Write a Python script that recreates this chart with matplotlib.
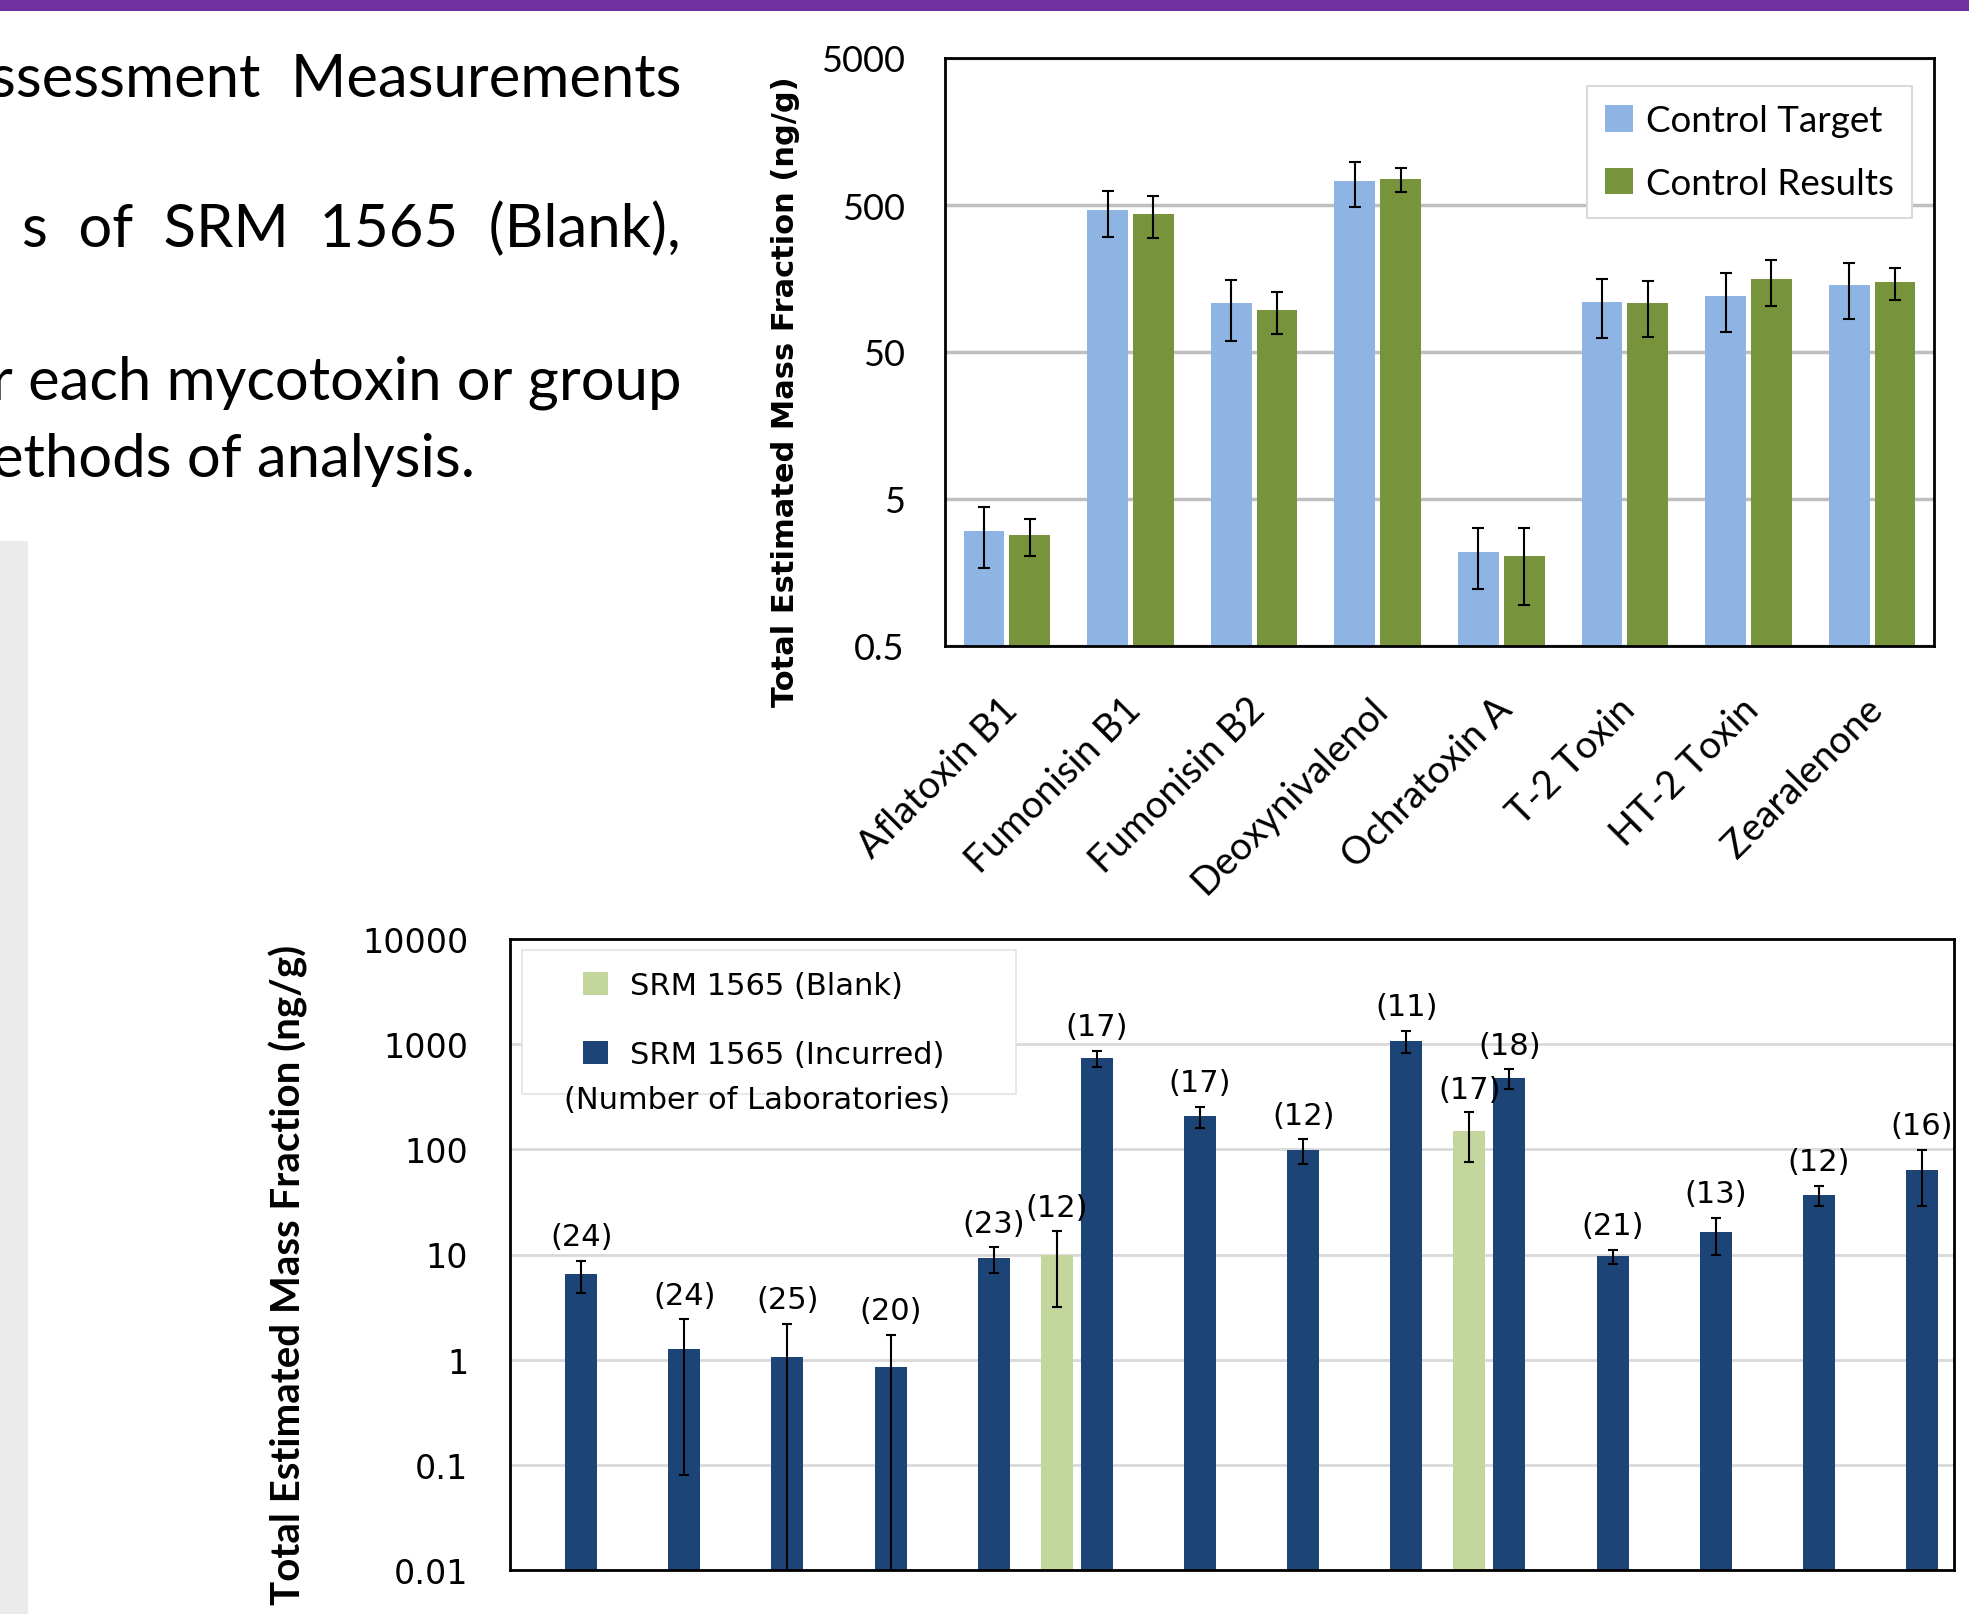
import matplotlib
matplotlib.use('Agg')
import matplotlib.pyplot as plt
from matplotlib.patches import Rectangle, Patch
from matplotlib.ticker import NullLocator
from matplotlib.transforms import ScaledTranslation
import numpy as np

# ---------------- data ----------------
toxins = ['Aflatoxin B1', 'Fumonisin B1', 'Fumonisin B2', 'Deoxynivalenol',
          'Ochratoxin A', 'T-2 Toxin', 'HT-2 Toxin', 'Zearalenone']
control_target = [3.05, 465, 107, 729, 2.19, 110, 120, 142]
control_target_err = [1.35, 160, 48, 245, 0.96, 48, 52, 58]
control_results = [2.86, 437, 97, 750, 2.05, 107, 157, 149]
control_results_err = [0.8, 140, 31, 138, 1.1, 44, 55, 36]

top_yticks = [0.5, 5, 50, 500, 5000]
top_yticklabels = ['0.5', '5', '50', '500', '5000']

incurred = [6.5, 1.25, 1.06, 0.86, 9.2, 733, 206, 98.6, 1082, 477, 9.6, 16.2, 36.7, 64.2]
incurred_err = [2.2, 1.17, 1.12, 0.87, 2.5, 125, 46, 26, 250, 100, 1.45, 6.2, 7.9, 35]
incurred_labs = [24, 24, 25, 20, 23, 17, 17, 12, 11, 18, 21, 13, 12, 16]
blank_idx = [5, 9]
blank = [10, 151]
blank_err = [6.8, 75]
blank_labs = [12, 17]

bot_yticks = [0.01, 0.1, 1, 10, 100, 1000, 10000]
bot_yticklabels = ['0.01', '0.1', '1', '10', '100', '1000', '10000']

left_lines = ['ssessment  Measurements', 's  of  SRM  1565  (Blank),',
              'r each mycotoxin or group', 'ethods of analysis.']

# ---------------- figure ----------------
W, H = 1969, 1615
fig = plt.figure(figsize=(W / 100, H / 100), dpi=100)
fig.patch.set_facecolor('white')


def rect(l, t, r, b):
    return [l / W, 1 - b / H, (r - l) / W, (b - t) / H]


# slide decorations
fig.patches.append(Rectangle((0, 1 - 12 / H), 1, 12 / H, transform=fig.transFigure,
                             facecolor='#7030A0', edgecolor='none', zorder=0))
fig.patches.append(Rectangle((0, 0), 28 / W, 1 - 542 / H, transform=fig.transFigure,
                             facecolor='#EBEBEB', edgecolor='none', zorder=0))

# left text (cropped, justified paragraph)
text_pos = [(681, 97), (681, 247), (681, 399), (475, 477)]
for line, (px, py) in zip(left_lines, text_pos):
    fig.text(px / W, 1 - py / H, line, ha='right', va='baseline', fontsize=43,
             family='Lato', color='black')

# ---------------- top chart ----------------
ax1 = fig.add_axes(rect(945, 59, 1934, 647))
ax1.set_yscale('log')
x = np.arange(len(toxins))
bw = 0.33
off = 0.185
ax1.bar(x - off, control_target, bw, color='#8EB4E3', zorder=2)
ax1.bar(x + off, control_results, bw, color='#77933C', zorder=2)
ax1.errorbar(x - off, control_target, yerr=control_target_err, fmt='none', ecolor='black',
             elinewidth=1.5, capsize=4.5, capthick=1.5, zorder=3)
ax1.errorbar(x + off, control_results, yerr=control_results_err, fmt='none', ecolor='black',
             elinewidth=1.5, capsize=4.5, capthick=1.5, zorder=3)
ax1.set_ylim(0.5, 5000)
ax1.set_xlim(-0.5, len(toxins) - 0.5)
ax1.set_yticks(top_yticks)
ax1.set_yticklabels(top_yticklabels, family='Lato', fontsize=26)
ax1.yaxis.set_minor_locator(NullLocator())
ax1.grid(axis='y', color='#BFBFBF', lw=2.5)
ax1.set_axisbelow(True)
ax1.tick_params(axis='y', length=0, pad=29)
ax1.set_xticks(x)
ax1.set_xticklabels(toxins, rotation=45, ha='right', va='top', rotation_mode='anchor',
                    family='Lato', fontsize=27.5)
ax1.tick_params(axis='x', length=0, pad=32)
for lab in ax1.get_xticklabels():
    lab.set_transform(lab.get_transform() + ScaledTranslation(-8 / 100, 0, fig.dpi_scale_trans))
for s in ax1.spines.values():
    s.set_color('black')
    s.set_linewidth(2)
leg1 = ax1.legend(handles=[Patch(facecolor='#8EB4E3', label='Control Target'),
                           Patch(facecolor='#77933C', label='Control Results')],
                  loc='upper left', bbox_to_anchor=(1587 / W, 1 - 87 / H),
                  bbox_transform=fig.transFigure, prop={'family': 'Lato', 'size': 26.5},
                  frameon=True, fancybox=False, edgecolor='#D9D9D9', framealpha=1,
                  handlelength=0.75, handleheight=0.75, handletextpad=0.35,
                  labelspacing=0.8, borderpad=0.5, borderaxespad=0)
leg1.get_frame().set_linewidth(1.5)
fig.text(785 / W, 1 - 392 / H, 'Total Estimated Mass Fraction (ng/g)', rotation=90,
         ha='center', va='center', family='DejaVu Sans', weight='bold', fontsize=22)

# ---------------- bottom chart ----------------
ax2 = fig.add_axes(rect(510, 940, 1954, 1571))
ax2.set_yscale('log')
n = len(incurred)
xb = np.arange(n)
bw2 = 0.31
inc_off = 0.19
blk_off = -0.20
inc_arr = np.array(incurred)
inc_err = np.array(incurred_err)
ax2.bar(xb + inc_off, inc_arr, bw2, color='#1D4476', zorder=2)
blk_x = np.array(blank_idx) + blk_off
blk_arr = np.array(blank)
blk_err = np.array(blank_err)
ax2.bar(blk_x, blk_arr, bw2, color='#C3D69B', zorder=2)
inc_low = np.minimum(inc_err, inc_arr - 0.001)
blk_low = np.minimum(blk_err, blk_arr - 0.001)
ax2.errorbar(xb + inc_off, inc_arr, yerr=[inc_low, inc_err], fmt='none', ecolor='black',
             elinewidth=1.5, capsize=3.6, capthick=1.5, zorder=3)
ax2.errorbar(blk_x, blk_arr, yerr=[blk_low, blk_err], fmt='none', ecolor='black',
             elinewidth=1.5, capsize=3.6, capthick=1.5, zorder=3)
for xi, v, e, nl in zip(xb + inc_off, inc_arr, inc_err, incurred_labs):
    t = ax2.annotate(f'({nl})', (xi, v + e), xytext=(0, 7), textcoords='offset points',
                     ha='center', va='bottom', fontsize=22, family='DejaVu Sans', zorder=5)
    t.set_clip_on(True)
for xi, v, e, nl in zip(blk_x, blk_arr, blk_err, blank_labs):
    t = ax2.annotate(f'({nl})', (xi, v + e), xytext=(0, 6), textcoords='offset points',
                     ha='center', va='bottom', fontsize=22, family='DejaVu Sans', zorder=5)
    t.set_clip_on(True)
ax2.set_ylim(0.01, 10000)
ax2.set_xlim(-0.5, n - 0.5)
ax2.set_yticks(bot_yticks)
ax2.set_yticklabels(bot_yticklabels, family='DejaVu Sans', fontsize=24)
ax2.yaxis.set_minor_locator(NullLocator())
ax2.set_xticks([])
ax2.grid(axis='y', color='#D9D9D9', lw=2)
ax2.set_axisbelow(True)
ax2.tick_params(axis='y', length=0, pad=30)
for s in ax2.spines.values():
    s.set_color('black')
    s.set_linewidth(2)

# legend box + legend
ax2.add_patch(Rectangle((522 / W, 1 - 1095 / H), (1016 - 522) / W, (1095 - 951) / H,
                        transform=fig.transFigure, facecolor='white', edgecolor='#E3E3E3',
                        lw=1.2, zorder=4))
leg2 = ax2.legend(handles=[Patch(facecolor='#C3D69B', label='SRM 1565 (Blank)'),
                           Patch(facecolor='#1D4476', label='SRM 1565 (Incurred)')],
                  loc='upper left', bbox_to_anchor=(577 / W, 1 - 966 / H),
                  bbox_transform=fig.transFigure, prop={'family': 'DejaVu Sans', 'size': 22},
                  frameon=False, handlelength=0.8, handleheight=0.8, handletextpad=0.75,
                  labelspacing=1.3, borderpad=0.2, borderaxespad=0)
leg2.set_zorder(6)
fig.text(757 / W, 1 - 1101 / H, '(Number of Laboratories)', ha='center', va='center',
         family='DejaVu Sans', fontsize=22, zorder=7)
fig.text(288 / W, 1 - 1275 / H, 'Total Estimated Mass Fraction (ng/g)', rotation=90,
         ha='center', va='center', family='Lato', weight='bold', fontsize=29)

fig.savefig('out.png', dpi=100, facecolor='white')
